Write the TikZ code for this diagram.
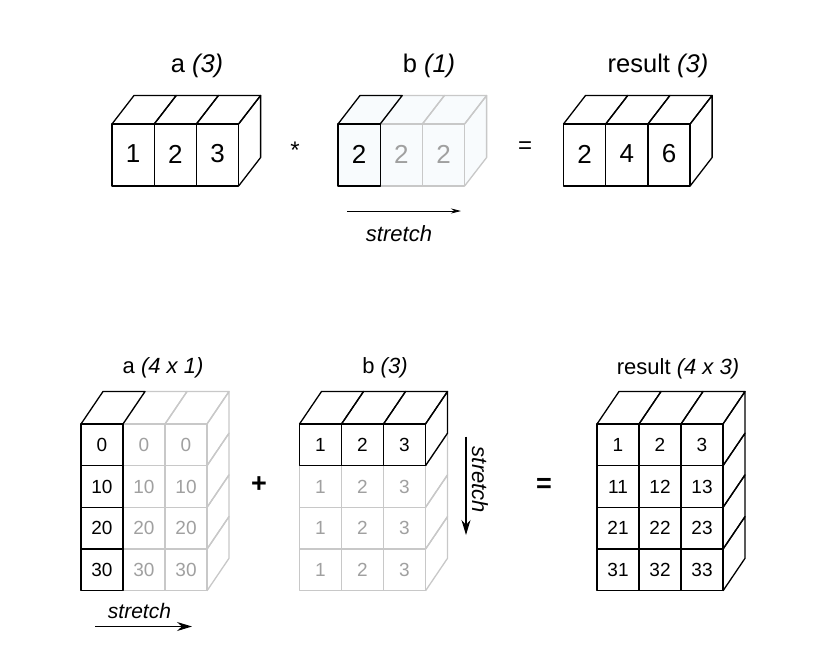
\documentclass[tikz,border=0pt]{standalone}
\usepackage{fontspec}
\setmainfont{Liberation Sans}
\usetikzlibrary{arrows.meta}
\definecolor{lightline}{RGB}{200,200,200}
\definecolor{lighttext}{RGB}{160,160,160}
\definecolor{bfill}{RGB}{248,251,253}
\tikzset{
 dk/.style={draw=black, line width=1.3pt, line join=round},
 lt/.style={draw=lightline, line width=1.3pt, line join=round},
 topnum/.style={font=\fontsize{26}{28}\selectfont, inner sep=0pt},
 botnum/.style={font=\fontsize{19}{22}\selectfont, inner sep=0pt},
 toplab/.style={font=\fontsize{25.5}{28}\selectfont, anchor=base, inner sep=0pt},
 botlab/.style={font=\fontsize{22}{24}\selectfont, anchor=base, inner sep=0pt},
 stretchlab/.style={font=\fontsize{22}{24}\selectfont\itshape, inner sep=0pt},
 opsign/.style={anchor=base, inner sep=0pt},
}
\begin{document}
\begin{tikzpicture}[x=1pt,y=-1pt]
\useasboundingbox (0,0) rectangle (829,651);
\fill[white] (0,0) rectangle (829,651);

% ---------------- top row ----------------
\node[toplab] (la) at (197,72) {a \textit{(3)}};
\node[toplab] (lb) at (429,72) {b \textit{(1)}};
\node[toplab] (lr) at (658,72) {result \textit{(3)}};

% a (3)
\foreach \i/\v in {0/1,1/2,2/3}{
  \pgfmathsetmacro\xx{112+\i*42.2}
  \draw[dk] (\xx,124) rectangle ++(42.2,62);
  \draw[dk] (\xx,124) -- ++(22,-28.5) -- ++(42.2,0) -- ++(-22,28.5);
  \node[topnum] (ta\i) at (\xx+21.1,154) {\v};
}
\draw[dk] (238.6,124) -- ++(22,-28.5) -- ++(0,62) -- ++(-22,28.5);

\node[opsign, font=\fontsize{24}{26}\selectfont] (times) at (295,158) {*};

% b (1)
\fill[bfill] (338,124) -- ++(22,-28.5) -- ++(126.6,0) -- ++(0,62) -- ++(-22,28.5) -- ++(-126.6,0) -- cycle;
\foreach \i in {1,2}{
  \pgfmathsetmacro\xx{338+\i*42.2}
  \draw[lt] (\xx,124) rectangle ++(42.2,62);
  \draw[lt] (\xx,124) -- ++(22,-28.5) -- ++(42.2,0) -- ++(-22,28.5);
  \node[topnum, text=lighttext] (tb\i) at (\xx+21.1,154) {2};
}
\draw[lt] (464.6,124) -- ++(22,-28.5) -- ++(0,62) -- ++(-22,28.5);
\draw[dk] (338,124) rectangle ++(42.2,62);
\draw[dk] (338,124) -- ++(22,-28.5) -- ++(42.2,0) -- ++(-22,28.5);
\node[topnum] (tb0) at (359.1,154) {2};

\coordinate (s1a) at (347,211);
\coordinate (s1b) at (461,211);
\draw[line width=0.8pt, -{Stealth[length=10pt,width=5pt]}] (s1a) -- (s1b);
\node[stretchlab, anchor=base] (st1) at (399,241.5) {stretch};

\node[opsign, font=\fontsize{24}{26}\selectfont] (eq1) at (525,153) {=};

% result (3)
\foreach \i/\v in {0/2,1/4,2/6}{
  \pgfmathsetmacro\xx{563.5+\i*42.2}
  \draw[dk] (\xx,124) rectangle ++(42.2,62);
  \draw[dk] (\xx,124) -- ++(22,-28.5) -- ++(42.2,0) -- ++(-22,28.5);
  \node[topnum] (tr\i) at (\xx+21.1,154) {\v};
}
\draw[dk] (690.1,124) -- ++(22,-28.5) -- ++(0,62) -- ++(-22,28.5);

% ---------------- bottom row ----------------
\node[botlab] (lba) at (163,373) {a \textit{(4 x 1)}};
\node[botlab] (lbb) at (385,373) {b \textit{(3)}};
\node[botlab] (lbr) at (678,374) {result \textit{(4 x 3)}};

% a (4 x 1)
\foreach \c in {1,2}{
  \pgfmathsetmacro\xx{81+\c*42}
  \draw[lt] (\xx,424) -- ++(22,-32.5) -- ++(42,0) -- ++(-22,32.5);
  \foreach \r in {0,...,3}{
    \pgfmathsetmacro\yy{424+\r*41.7}
    \pgfmathtruncatemacro\v{10*\r}
    \draw[lt] (\xx,\yy) rectangle ++(42,41.7);
    \node[botnum, text=lighttext] (ba\r\c) at (\xx+21,\yy+20.85) {\v};
  }
}
\foreach \r in {0,...,3}{
  \pgfmathsetmacro\yy{424+\r*41.7}
  \draw[lt] (207,\yy) -- ++(22,-32.5) -- ++(0,41.7) -- ++(-22,32.5);
}
\draw[dk] (81,424) -- ++(22,-32.5) -- ++(42,0) -- ++(-22,32.5);
\foreach \r in {0,...,3}{
  \pgfmathsetmacro\yy{424+\r*41.7}
  \pgfmathtruncatemacro\v{10*\r}
  \draw[dk] (81,\yy) rectangle ++(42,41.7);
  \node[botnum] (ba\r0) at (102,\yy+20.85) {\v};
}
\coordinate (s2a) at (95,626.5);
\coordinate (s2b) at (192,626.5);
\draw[line width=1.1pt, -{Stealth[length=15pt,width=9pt]}] (s2a) -- (s2b);
\node[stretchlab, anchor=base, font=\fontsize{21}{24}\selectfont\itshape] (st2) at (139.5,618) {stretch};

\node[opsign, font=\fontsize{27}{28}\selectfont\bfseries] (plus) at (259,492) {+};

% b (3)
\foreach \r in {1,2,3}{
  \pgfmathsetmacro\yy{424+\r*41.7}
  \draw[lt] (425.5,\yy) -- ++(22,-32.5) -- ++(0,41.7) -- ++(-22,32.5);
  \foreach \c in {0,1,2}{
    \pgfmathsetmacro\xx{299.5+\c*42}
    \pgfmathtruncatemacro\v{\c+1}
    \draw[lt] (\xx,\yy) rectangle ++(42,41.7);
    \node[botnum, text=lighttext] (bb\r\c) at (\xx+21,\yy+20.85) {\v};
  }
}
\foreach \c in {0,1,2}{
  \pgfmathsetmacro\xx{299.5+\c*42}
  \pgfmathtruncatemacro\v{\c+1}
  \draw[dk] (\xx,424) -- ++(22,-32.5) -- ++(42,0) -- ++(-22,32.5);
  \draw[dk] (\xx,424) rectangle ++(42,41.7);
  \node[botnum] (bb0\c) at (\xx+21,444.85) {\v};
}
\draw[dk] (425.5,424) -- ++(22,-32.5) -- ++(0,41.7) -- ++(-22,32.5);
\coordinate (s3a) at (466,436.5);
\coordinate (s3b) at (466,535);
\draw[line width=1.1pt, -{Stealth[length=15pt,width=9pt]}] (s3a) -- (s3b);
\node[stretchlab, rotate=-90] (st3) at (480,480) {stretch};

\node[opsign, font=\fontsize{27}{28}\selectfont\bfseries] (eq2) at (544,492.5) {=};

% result (4 x 3)
\foreach \c in {0,1,2}{
  \pgfmathsetmacro\xx{597+\c*42}
  \draw[dk] (\xx,424) -- ++(22,-32.5) -- ++(42,0) -- ++(-22,32.5);
  \foreach \r in {0,...,3}{
    \pgfmathsetmacro\yy{424+\r*41.7}
    \pgfmathtruncatemacro\v{10*\r+\c+1}
    \draw[dk] (\xx,\yy) rectangle ++(42,41.7);
    \node[botnum] (br\r\c) at (\xx+21,\yy+20.85) {\v};
  }
}
\foreach \r in {0,...,3}{
  \pgfmathsetmacro\yy{424+\r*41.7}
  \draw[dk] (723,\yy) -- ++(22,-32.5) -- ++(0,41.7) -- ++(-22,32.5);
}
\end{tikzpicture}
\end{document}
